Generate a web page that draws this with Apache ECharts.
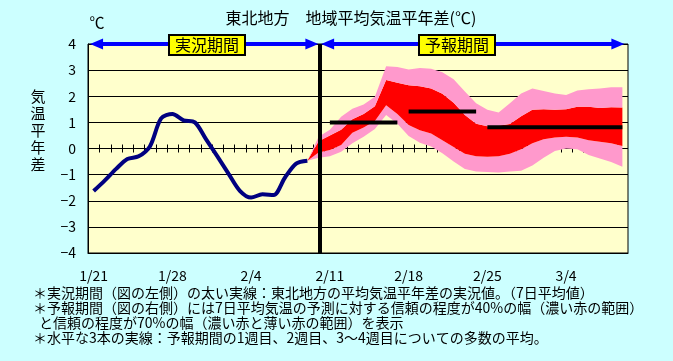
<!DOCTYPE html>
<html><head><meta charset="utf-8">
<script src="https://cdn.jsdelivr.net/npm/echarts@6/dist/echarts.min.js"></script>
<style>html,body{margin:0;padding:0;background:#CCFFFF;} #c{width:673px;height:361px;}</style>
</head><body><div id="c"></div>
<script>
// ---- data ----
const dates = ['1/21','1/22','1/23','1/24','1/25','1/26','1/27','1/28','1/29','1/30','1/31',
  '2/1','2/2','2/3','2/4','2/5','2/6','2/7','2/8','2/9','2/10','2/11','2/12','2/13','2/14',
  '2/15','2/16','2/17','2/18','2/19','2/20','2/21','2/22','2/23','2/24','2/25','2/26','2/27','2/28',
  '3/1','3/2','3/3','3/4','3/5','3/6','3/7','3/8','3/9'];
// observed 7-day mean anomaly, 1/21 .. 2/9
const observed = [-1.63,-1.22,-0.78,-0.40,-0.30,0.08,1.15,1.32,1.08,1.00,0.35,-0.30,-0.97,-1.62,-1.88,-1.75,-1.78,-1.12,-0.58,-0.47];
// forecast bands, 2/9 .. 3/9
const forecastStart = '2/9';
const band70Low  = [-0.47,-0.35,-0.30,-0.12,0.20,0.45,0.75,1.28,0.95,0.48,0.22,0.08,-0.18,-0.50,-0.78,-0.88,-0.90,-0.92,-0.88,-0.85,-0.65,-0.35,-0.10,0.00,-0.03,-0.25,-0.38,-0.52,-0.70];
const band40Low  = [-0.47,-0.15,-0.06,0.13,0.60,0.80,1.05,1.66,1.32,0.90,0.70,0.57,0.32,0.06,-0.20,-0.30,-0.32,-0.30,-0.20,-0.03,0.20,0.35,0.42,0.45,0.42,0.32,0.26,0.20,0.10];
const band40High = [-0.47,0.28,0.50,0.72,1.12,1.32,1.62,2.62,2.52,2.42,2.38,2.30,2.10,1.75,1.28,0.95,0.85,0.87,0.94,1.23,1.48,1.50,1.48,1.50,1.60,1.60,1.55,1.58,1.57];
const band70High = [-0.47,0.45,0.72,1.22,1.52,1.68,1.98,3.15,3.12,3.02,3.08,3.05,2.92,2.65,2.18,1.73,1.48,1.38,1.73,2.11,2.30,2.20,2.11,2.05,2.22,2.27,2.30,2.34,2.34];
// weekly ensemble means
const weekStart = ['2/11','2/18','2/25'];
const weekEnd   = ['2/17','2/24','3/9'];
const weekMean  = [1.00,1.42,0.81];
const yTicks = [-4,-3,-2,-1,0,1,2,3,4];

// ---- build ----
const FONT = '"Noto Sans CJK JP","Noto Sans",sans-serif';
const N = dates.length;
const f0 = dates.indexOf(forecastStart);
function pad(arr, start){ const out = new Array(N).fill(null); arr.forEach((v,i)=>{out[start+i]=v;}); return out; }
const baseData = pad(band70Low, f0);
const pinkLowData = pad(band40Low.map((v,i)=>+(v-band70Low[i]).toFixed(3)), f0);
const redData = pad(band40High.map((v,i)=>+(v-band40Low[i]).toFixed(3)), f0);
const pinkHighData = pad(band70High.map((v,i)=>+(v-band40High[i]).toFixed(3)), f0);
const obsData = pad(observed, 0);

function bandSeries(name, data, color){
  return {name, type:'line', xAxisIndex:0, stack:'band', stackStrategy:'all', data, symbol:'none', silent:true,
    lineStyle:{width:0, opacity:0}, areaStyle: color ? {color, opacity:1} : undefined, z:2};
}
const weekSeries = weekMean.map((m,k)=>{
  const s = dates.indexOf(weekStart[k]), e = dates.indexOf(weekEnd[k]);
  const d = new Array(N).fill(null); for(let i=s;i<=e;i++) d[i]=m;
  return {type:'line', xAxisIndex:0, data:d, symbol:'none', silent:true,
    lineStyle:{color:'#000', width:4}, z:4};
});

const chart = echarts.init(document.getElementById('c'), null, {renderer:'canvas'});
chart.setOption({
  animation:false,
  backgroundColor:'#CCFFFF',
  grid:{left:88, right:45, top:44, bottom:108, show:true, backgroundColor:'#FFFFCC', borderColor:'#000', borderWidth:1},
  xAxis:[
    {type:'category', data:dates, boundaryGap:true, position:'bottom',
      axisLine:{onZero:false, lineStyle:{color:'#000', width:1}},
      axisTick:{interval:6, length:5, lineStyle:{color:'#000'}},
      axisLabel:{interval:6, margin:16, fontSize:14, color:'#000', fontFamily:FONT},
      splitLine:{show:false}},
    {type:'value', min:0, max:N, show:false}
  ],
  yAxis:{type:'value', min:yTicks[0], max:yTicks[yTicks.length-1], interval:1,
    axisLine:{show:true, lineStyle:{color:'#000'}}, axisTick:{show:false},
    axisLabel:{color:'#000', fontSize:14, margin:12, fontFamily:FONT,
      formatter:v=>String(v).replace('-','\u2212')},
    splitLine:{show:true, lineStyle:{color:'#000', width:1}}},
  series:[
    {type:'custom', xAxisIndex:0, silent:true, z:1,
      data:dates.map((d,i)=>[i,0]), encode:{x:0,y:1},
      renderItem:(params, api)=>{
        const p = api.coord([api.value(0), api.value(1)]);
        const w = api.size([1,0])[0];
        const x = Math.round(p[0] - w/2) + 0.5;
        return {type:'line', shape:{x1:x, y1:p[1]-4, x2:x, y2:p[1]+4}, style:{stroke:'#000', lineWidth:1}};
      }},
    bandSeries('base', baseData, null),
    bandSeries('70low', pinkLowData, '#FF99CC'),
    bandSeries('40', redData, '#FF0000'),
    bandSeries('70high', pinkHighData, '#FF99CC'),
    ...weekSeries,
    {type:'line', xAxisIndex:0, data:obsData, symbol:'none', smooth:0.3, silent:true,
      lineStyle:{color:'#000080', width:4}, z:5},
    {type:'line', xAxisIndex:1, data:[], silent:true, z:6,
      markLine:{silent:true, animation:false, symbol:'none', label:{show:false},
        lineStyle:{color:'#000', width:4, type:'solid'},
        data:[[{coord:[20.6, yTicks[0]]},{coord:[20.6, yTicks[yTicks.length-1]]}]]}},
    {type:'line', xAxisIndex:1, data:[], silent:true, z:7,
      markLine:{silent:true, animation:false, symbol:['triangle','triangle'], symbolSize:[11,13],
        label:{show:false}, lineStyle:{color:'#0000FF', width:4, type:'solid', opacity:1},
        itemStyle:{color:'#0000FF'},
        data:[
          [{coord:[0.76, 4]},{coord:[19.9, 4]}],
          [{coord:[21.3, 4]},{coord:[47.1, 4]}]
        ]}}
  ],
  graphic:[
    {type:'text', z:100, style:{text:'東北地方　地域平均気温平年差(℃)', x:351, y:18, align:'center', verticalAlign:'middle', font:'16px '+FONT, fill:'#000'}},
    {type:'text', z:100, style:{text:'℃', x:97, y:22, align:'center', verticalAlign:'middle', font:'15px '+FONT, fill:'#000'}},
    {type:'text', z:100, style:{text:'気\n温\n平\n年\n差', x:38, y:130, align:'center', verticalAlign:'middle', font:'15px '+FONT, lineHeight:17, fill:'#000'}},
    {type:'text', z:100, style:{text:'実況期間', x:207, y:45, align:'center', verticalAlign:'middle', font:'16px '+FONT, fill:'#000', backgroundColor:'#FFFF00', borderColor:'#000', borderWidth:2, padding:[1,5]}},
    {type:'text', z:100, style:{text:'予報期間', x:457, y:45, align:'center', verticalAlign:'middle', font:'16px '+FONT, fill:'#000', backgroundColor:'#FFFF00', borderColor:'#000', borderWidth:2, padding:[1,5]}},
    {type:'text', z:100, style:{text:'＊実況期間（図の左側）の太い実線：東北地方の平均気温平年差の実況値。（7日平均値）', x:33, y:293, verticalAlign:'middle', font:'14px '+FONT, fill:'#000'}},
    {type:'text', z:100, style:{text:'＊予報期間（図の右側）には7日平均気温の予測に対する信頼の程度が40%の幅（濃い赤の範囲）', x:33, y:308, verticalAlign:'middle', font:'14px '+FONT, fill:'#000'}},
    {type:'text', z:100, style:{text:'と信頼の程度が70%の幅（濃い赤と薄い赤の範囲）を表示', x:39, y:323, verticalAlign:'middle', font:'14px '+FONT, fill:'#000'}},
    {type:'text', z:100, style:{text:'＊水平な3本の実線：予報期間の1週目、2週目、3～4週目についての多数の平均。', x:33, y:338, verticalAlign:'middle', font:'14px '+FONT, fill:'#000'}}
  ]
});
</script></body></html>
